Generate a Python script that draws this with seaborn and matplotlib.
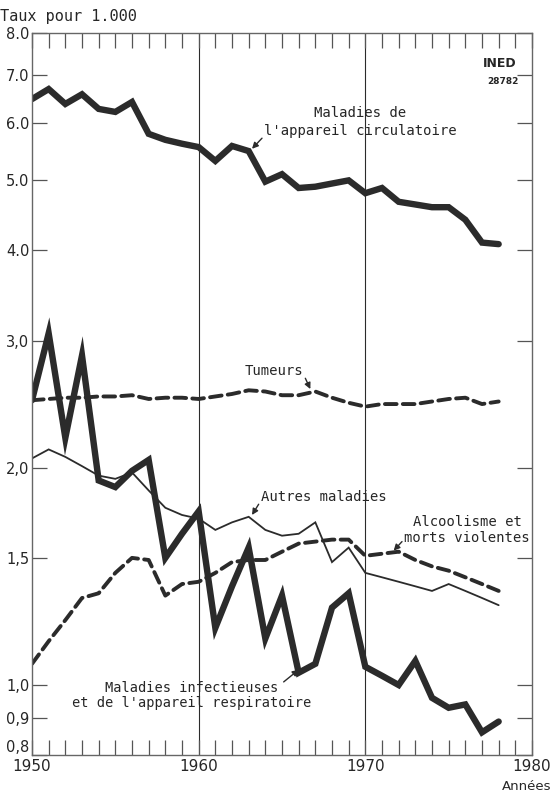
import numpy as np
import pandas as pd
import matplotlib
matplotlib.use("Agg")
import matplotlib.pyplot as plt
import seaborn as sns
from matplotlib.ticker import FixedLocator, NullFormatter

years = list(range(1950, 1979))
circulatoire = [6.48, 6.69, 6.38, 6.58, 6.28, 6.22, 6.42, 5.80, 5.69, 5.62,
                5.56, 5.32, 5.58, 5.49, 4.98, 5.10, 4.88, 4.90, 4.95, 5.00,
                4.80, 4.88, 4.67, 4.63, 4.59, 4.59, 4.41, 4.10, 4.08]
tumeurs = [2.48, 2.49, 2.50, 2.50, 2.51, 2.51, 2.52, 2.49, 2.50, 2.50,
           2.49, 2.51, 2.53, 2.56, 2.55, 2.52, 2.52, 2.55, 2.50, 2.46,
           2.43, 2.45, 2.45, 2.45, 2.47, 2.49, 2.50, 2.45, 2.47]
infectieuses = [2.48, 3.07, 2.20, 2.86, 1.92, 1.88, 1.98, 2.05, 1.50, 1.62,
                1.74, 1.20, 1.37, 1.55, 1.16, 1.33, 1.04, 1.07, 1.28, 1.34,
                1.06, 1.03, 1.00, 1.08, 0.96, 0.93, 0.94, 0.86, 0.89]
autres = [2.06, 2.12, 2.07, 2.01, 1.95, 1.93, 1.97, 1.86, 1.76, 1.72,
          1.70, 1.64, 1.68, 1.71, 1.64, 1.61, 1.62, 1.68, 1.48, 1.55,
          1.43, 1.41, 1.39, 1.37, 1.35, 1.38, 1.35, 1.32, 1.29]
alcoolisme = [1.07, 1.15, 1.23, 1.32, 1.34, 1.43, 1.50, 1.49, 1.33, 1.38,
              1.39, 1.43, 1.48, 1.49, 1.49, 1.53, 1.57, 1.58, 1.59, 1.59,
              1.51, 1.52, 1.53, 1.49, 1.46, 1.44, 1.41, 1.38, 1.35]

ytick_vals = [0.8, 0.9, 1.0, 1.5, 2.0, 3.0, 4.0, 5.0, 6.0, 7.0, 8.0]
ytick_labels = ["0,8", "0,9", "1,0", "1,5", "2,0", "3,0", "4.0", "5.0", "6.0", "7.0", "8.0"]
xtick_vals = [1950, 1960, 1970, 1980]

sns.set_style("white")
plt.rcParams['font.family'] = ['DejaVu Sans']
mono = "DejaVu Sans Mono"
ink = "#2b2b2b"

df = pd.DataFrame({"annee": years * 5,
                   "taux": circulatoire + tumeurs + infectieuses + autres + alcoolisme,
                   "serie": (["circ"] * 29 + ["tum"] * 29 + ["inf"] * 29 +
                             ["aut"] * 29 + ["alc"] * 29)})

fig = plt.figure(figsize=(5.53, 7.93), dpi=100)
ax = fig.add_axes([32 / 553, 38 / 793, 500 / 553, 722 / 793])
ax.set_yscale("log")

styles = {
    "circ": dict(lw=4.6, ls="-"),
    "inf": dict(lw=4.6, ls="-"),
    "aut": dict(lw=1.3, ls="-"),
    "tum": dict(lw=2.8, ls=(0, (3, 1.6))),
    "alc": dict(lw=2.8, ls=(0, (3, 1.6))),
}
for key, st in styles.items():
    sub = df[df["serie"] == key]
    sns.lineplot(data=sub, x="annee", y="taux", ax=ax, color=ink,
                 linewidth=st["lw"], linestyle=st["ls"],
                 solid_joinstyle="miter", dash_capstyle="round",
                 legend=False, errorbar=None)

ax.set_xlim(1950, 1980)
ax.set_ylim(0.8, 8.0)
ax.set_xlabel("")
ax.set_ylabel("")

ax.yaxis.set_major_locator(FixedLocator(ytick_vals))
ax.set_yticklabels(ytick_labels)
ax.yaxis.set_minor_locator(FixedLocator([]))
ax.yaxis.set_minor_formatter(NullFormatter())
ax.xaxis.set_major_locator(FixedLocator(xtick_vals))
ax.set_xticklabels([str(v) for v in xtick_vals])
ax.xaxis.set_minor_locator(FixedLocator(years + [1979]))

ax.tick_params(axis="y", which="major", direction="in", length=11, width=0.9,
               left=True, right=True, labelsize=10.5, pad=2, color="#555555")
ax.tick_params(axis="x", which="major", direction="in", length=11, width=0.9,
               top=True, bottom=True, labelsize=11, pad=3, color="#555555")
ax.tick_params(axis="x", which="minor", direction="in", length=11, width=0.9,
               top=True, bottom=True, color="#555555")
for lbl in ax.get_yticklabels():
    if lbl.get_text() == "0,8":
        lbl.set_verticalalignment("bottom")

for s in ax.spines.values():
    s.set_color("#666666")
    s.set_linewidth(1.0)

for xv in [1960, 1970]:
    ax.axvline(xv, color=ink, lw=0.8, zorder=0)

fig.text(0 / 553, 1 - 17 / 793, "Taux pour 1.000", fontsize=11, va="center",
         ha="left", family=mono)
fig.text(551 / 553, 1 - 787 / 793, "Années", fontsize=9.5, va="center", ha="right")
ax.text(1979.1, 7.25, "INED", fontsize=9, ha="right", va="center",
        fontweight="bold", family="DejaVu Sans Condensed")
ax.text(1979.2, 6.85, "28782", fontsize=6.5, ha="right", va="center",
        fontweight="bold")

arrow = dict(arrowstyle="-|>", color=ink, lw=1.0, mutation_scale=9,
             shrinkA=0, shrinkB=0)
ax.text(1969.7, 5.72, "Maladies de\nl'appareil circulatoire", ha="center",
        va="bottom", fontsize=10, family=mono, linespacing=1.35)
ax.annotate("", xy=(1963.2, 5.53), xytext=(1963.8, 5.72), arrowprops=arrow)
ax.text(1964.5, 2.66, "Tumeurs", ha="center", va="bottom", fontsize=10,
        family=mono)
ax.annotate("", xy=(1966.7, 2.57), xytext=(1966.4, 2.66), arrowprops=arrow)
ax.text(1967.5, 1.78, "Autres maladies", ha="center", va="bottom",
        fontsize=10, family=mono)
ax.annotate("", xy=(1963.2, 1.72), xytext=(1963.6, 1.78), arrowprops=arrow)
ax.text(1976.1, 1.565, "Alcoolisme et\nmorts violentes", ha="center",
        va="bottom", fontsize=10, family=mono, linespacing=1.1)
ax.annotate("", xy=(1971.7, 1.535), xytext=(1972.2, 1.58), arrowprops=arrow)
ax.text(1959.6, 0.922, "Maladies infectieuses\net de l'appareil respiratoire",
        ha="center", va="bottom", fontsize=9.8, family=mono, linespacing=1.15)
ax.annotate("", xy=(1966.0, 1.05), xytext=(1965.1, 1.01), arrowprops=arrow)

fig.savefig("out.png", dpi=100)
